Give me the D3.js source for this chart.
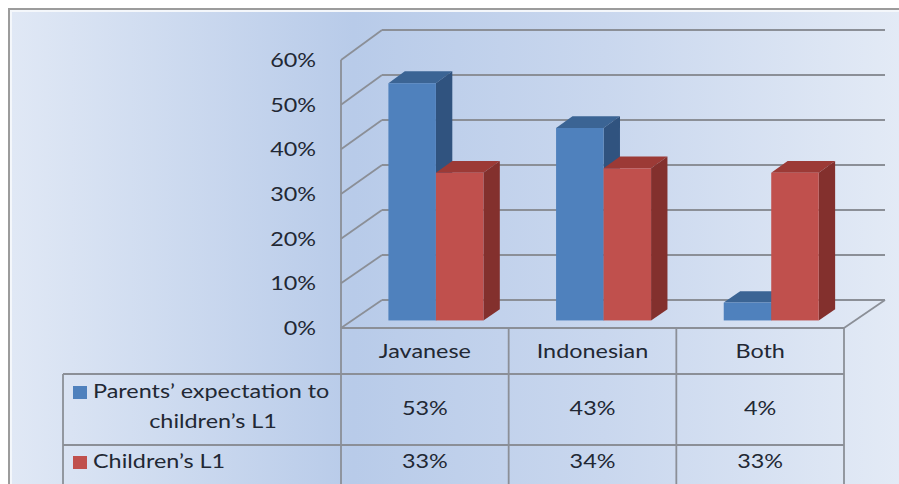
<!DOCTYPE html>
<html>
<head>
<meta charset="utf-8">
<script src="https://cdn.jsdelivr.net/npm/d3@7"></script>
<style>
  html, body { margin: 0; padding: 0; background: #ffffff; }
  svg { display: block; }
  text { font-family: Lato, "Open Sans", sans-serif; fill: #222834; }
</style>
</head>
<body>
<svg id="chart" width="899" height="484"></svg>
<script>
// ---- data ----
const categories = ["Javanese", "Indonesian", "Both"];
const seriesNames = ["Parents’ expectation to children’s L1", "Children’s L1"];
const parentsValues = [0.53, 0.43, 0.04];
const childrenValues = [0.33, 0.34, 0.33];
const yTicks = [0, 0.1, 0.2, 0.3, 0.4, 0.5, 0.6];
const legendLines = [["Parents’ expectation to", "children’s L1"], ["Children’s L1"]];

const seriesValues = [parentsValues, childrenValues];
const faceColors = [
  { front: "#4f81bd", top: "#3b6494", side: "#30537f" },
  { front: "#c0504d", top: "#9c3a36", side: "#83302d" }
];

// ---- layout ----
const W = 899, H = 484;
const svg = d3.select("#chart");
const fontSize = 20, stretch = 1.17;   // wide-set lettering

// places a horizontally stretched label at (x, y)
function label(parent, x, y, str, anchor) {
  return parent.append("text")
    .attr("transform", `translate(${x},${y}) scale(${stretch},1)`)
    .attr("text-anchor", anchor || "start")
    .attr("dominant-baseline", "middle")
    .attr("font-size", fontSize)
    .text(str);
}

const plotLeft = 341, plotRight = 844;         // front edge of the floor
const depthDX = 41;                            // horizontal shift of the back wall
const yFront = d3.scaleLinear().domain([0, 0.6]).range([328, 60]);
const yBack = d3.scaleLinear().domain([0, 0.6]).range([300, 30]);

// project a point at front x, value v and depth z (0 = front, 1 = back wall)
function proj(x, v, z) {
  return [x + z * depthDX, yFront(v) * (1 - z) + yBack(v) * z];
}

const x0 = d3.scaleBand().domain(categories).range([plotLeft, plotRight]).padding(0);
const x1 = d3.scaleBand().domain(seriesNames).range([0, x0.bandwidth()])
  .paddingInner(0).paddingOuter(0.765);

const zFront = 0.27, zRear = 0.67;

// ---- background panel ----
const defs = svg.append("defs");
const grad = defs.append("linearGradient").attr("id", "bg")
  .attr("x1", "0%").attr("y1", "0%").attr("x2", "100%").attr("y2", "0%");
[["0%", "#e0e8f5"], ["38%", "#b8cbe9"], ["66%", "#c9d7ee"], ["100%", "#e4ebf6"]]
  .forEach(([o, c]) => grad.append("stop").attr("offset", o).attr("stop-color", c));

svg.append("rect").attr("x", 9).attr("y", 9).attr("width", W).attr("height", H)
  .attr("fill", "#f4f7fb").attr("stroke", "#9c9c9c").attr("stroke-width", 2);
svg.append("rect").attr("x", 12).attr("y", 12).attr("width", W).attr("height", H)
  .attr("fill", "url(#bg)");

const gridColor = "#8b8f97";

// ---- walls and floor ----
const walls = svg.append("g").attr("fill", "none").attr("stroke", gridColor)
  .attr("stroke-width", 1.8);

// back-wall gridlines
walls.selectAll("line.back").data(yTicks).join("line").attr("class", "back")
  .attr("x1", d => proj(plotLeft, d, 1)[0]).attr("x2", d => proj(plotRight, d, 1)[0])
  .attr("y1", d => yBack(d)).attr("y2", d => yBack(d));

// side-wall gridlines
walls.selectAll("line.side").data(yTicks).join("line").attr("class", "side")
  .attr("x1", plotLeft).attr("y1", d => yFront(d))
  .attr("x2", d => proj(plotLeft, d, 1)[0]).attr("y2", d => yBack(d));

// front edge of the side wall (continues as the table's divider)
walls.append("line").attr("x1", plotLeft).attr("x2", plotLeft)
  .attr("y1", yFront(0.6)).attr("y2", H);

// floor front and right edges
walls.append("line").attr("x1", plotLeft).attr("x2", plotRight)
  .attr("y1", yFront(0)).attr("y2", yFront(0));
walls.append("line").attr("x1", plotRight).attr("y1", yFront(0))
  .attr("x2", proj(plotRight, 0, 1)[0]).attr("y2", yBack(0));

// ---- y axis labels ----
const yAxisG = svg.append("g");
yTicks.forEach(d => label(yAxisG, 316, yFront(d) + 2, d3.format(".0%")(d), "end"));

// ---- 3D bars ----
const bars = svg.append("g");
categories.forEach((cat, ci) => {
  seriesNames.forEach((s, si) => {
    const v = seriesValues[si][ci];
    const xl = x0(cat) + x1(s), xr = xl + x1.bandwidth();
    const c = faceColors[si];
    const g = bars.append("g");
    const pts = arr => arr.map(p => p.join(",")).join(" ");
    // top face
    g.append("polygon").attr("fill", c.top).attr("points", pts([
      proj(xl, v, zFront), proj(xr, v, zFront), proj(xr, v, zRear), proj(xl, v, zRear)
    ]));
    // right side face
    g.append("polygon").attr("fill", c.side).attr("points", pts([
      proj(xr, 0, zFront), proj(xr, v, zFront), proj(xr, v, zRear), proj(xr, 0, zRear)
    ]));
    // front face
    const [fx, fy] = proj(xl, v, zFront);
    const [, by] = proj(xl, 0, zFront);
    g.append("rect").attr("fill", c.front).attr("x", fx).attr("y", fy)
      .attr("width", x1.bandwidth()).attr("height", by - fy);
  });
});

// ---- data table ----
const rowTop = [328, 374, 445, 485];
const tableLeft = 63;
const table = svg.append("g").attr("stroke", gridColor).attr("stroke-width", 1.8);
// column dividers
table.selectAll("line.col").data(categories).join("line").attr("class", "col")
  .attr("x1", d => x0(d) + x0.bandwidth()).attr("x2", d => x0(d) + x0.bandwidth())
  .attr("y1", rowTop[0]).attr("y2", H);
// row dividers
table.selectAll("line.row").data(rowTop.slice(1)).join("line").attr("class", "row")
  .attr("x1", tableLeft).attr("x2", plotRight).attr("y1", d => d).attr("y2", d => d);
table.append("line").attr("x1", tableLeft).attr("x2", tableLeft)
  .attr("y1", rowTop[1]).attr("y2", H);

// category header
const headG = svg.append("g");
categories.forEach(d => label(headG, x0(d) + x0.bandwidth() / 2,
  (rowTop[0] + rowTop[1]) / 2 + 2, d, "middle"));

// value rows
const valG = svg.append("g");
seriesValues.forEach((vals, si) => {
  const cy = (rowTop[si + 1] + rowTop[si + 2]) / 2;
  vals.forEach((d, i) => label(valG, x0(categories[i]) + x0.bandwidth() / 2,
    cy + (si === 1 ? -2 : 0), d3.format(".0%")(d), "middle"));
});

// legend cells
const legendKeyY = [393, 463];
const legG = svg.append("g");
legendLines.forEach((lines, si) => {
  legG.append("rect").attr("x", 73).attr("y", legendKeyY[si] - 7)
    .attr("width", 14).attr("height", 13).attr("fill", faceColors[si].front);
  lines.forEach((ln, li) => {
    if (li === 0) label(legG, 93, legendKeyY[si], ln, "start");
    else label(legG, 213, legendKeyY[si] + li * 30, ln, "middle");
  });
});
</script>
</body>
</html>
